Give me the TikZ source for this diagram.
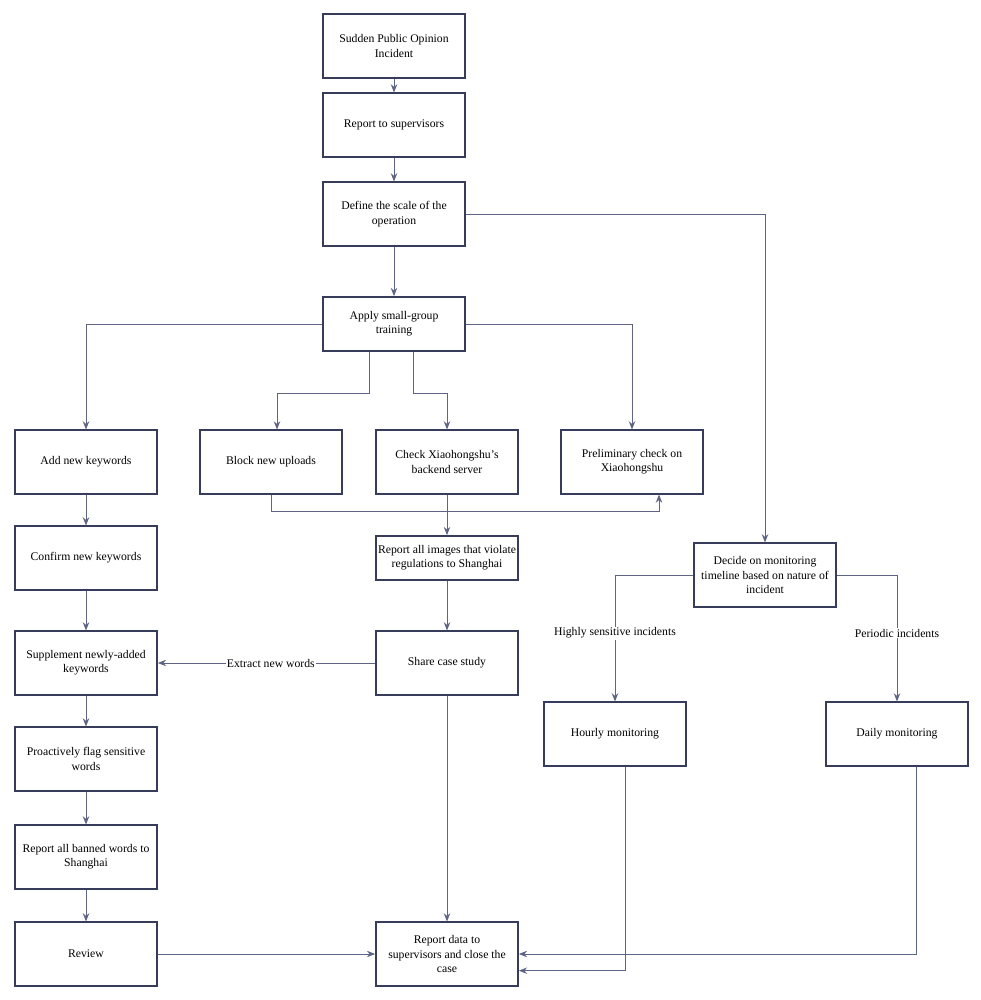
\documentclass[tikz,border=0pt]{standalone}
\usepackage{xcolor}
\usepackage{fontspec}
\setmainfont{Liberation Serif}
\usetikzlibrary{arrows.meta}
\usetikzlibrary{calc}
\definecolor{boxline}{HTML}{363C5A}
\definecolor{arrowline}{HTML}{5E6483}

\begin{document}
\begin{tikzpicture}[x=0.03cm,y=-0.03cm,
    every node/.style={black,font=\fontsize{10}{12.2}\selectfont},
    box/.style={draw=boxline,line width=1.5pt,fill=white,align=center,
        minimum width=4.26cm,minimum height=1.9cm,inner sep=1pt},
    link/.style={draw=arrowline,line width=0.75pt,-{Stealth[length=7pt,width=5.5pt]}},
    tag/.style={fill=white,inner sep=1pt}]
    \useasboundingbox[fill=white] (0,0) rectangle (981,1000);

    % main column
    \node[box] (incident) at (394,46) {Sudden Public Opinion\\Incident};
    \node[box] (report) at (394,125) {Report to supervisors};
    \node[box] (define) at (394,214) {Define the scale of the\\operation};
    \node[box,minimum height=1.62cm] (apply) at (394,324) {Apply small-group\\training};

    \node[box] (keywords) at (86,462) {Add new keywords};
    \node[box] (block) at (271,462) {Block new uploads};
    \node[box] (backend) at (447,462) {Check Xiaohongshu’s\\backend server};
    \node[box] (prelim) at (632,462) {Preliminary check on\\Xiaohongshu};

    \node[box] (confirm) at (86,558) {Confirm new keywords};
    \node[box,minimum height=1.32cm] (images) at (447,558) {Report all images that violate\\regulations to Shanghai};
    \node[box] (decide) at (765,575) {Decide on monitoring\\timeline based on nature of\\incident};

    \node[box] (supplement) at (86,663) {Supplement newly-added\\keywords};
    \node[box] (share) at (447,663) {Share case study};
    \node[box] (hourly) at (615,734) {Hourly monitoring};
    \node[box] (daily) at (897,734) {Daily monitoring};

    \node[box] (flag) at (86,759) {Proactively flag sensitive\\words};
    \node[box] (banned) at (86,857) {Report all banned words to\\Shanghai};
    \node[box] (review) at (86,954) {Review};
    \node[box] (close) at (447,954) {Report data to\\supervisors and close the\\case};

    \draw[link] (incident) -- (report);
    \draw[link] (report) -- (define);
    \draw[link] (define) -- (apply);
    \draw[link] (define.east) -| (decide.north);

    \draw[link] (apply.west) -| (keywords.north);
    \draw[link] (apply.east) -| (prelim.north);
    \draw[link] ([xshift=-0.75cm]apply.south) -- ++(0,42) -| ([xshift=0.18cm]block.north);
    \draw[link] ([xshift=0.57cm]apply.south) -- ++(0,42) -| (backend.north);

    \draw[link] (block.south) -- ++(0,17) -| ([xshift=0.81cm]prelim.south);
    \draw[link] (backend) -- (images);
    \draw[link] (images) -- (share);
    \draw[link] (share) -- node[tag,pos=0.48] {Extract new words} (supplement);
    \draw[link] (share) -- (close);

    \draw[link] (keywords) -- (confirm);
    \draw[link] (confirm) -- (supplement);
    \draw[link] (supplement) -- (flag);
    \draw[link] (flag) -- (banned);
    \draw[link] (banned) -- (review);
    \draw[link] (review) -- (close);

    \draw[link] (decide.west) -| node[tag,pos=0.73] {Highly sensitive incidents} (hourly.north);
    \draw[link] (decide.east) -| node[tag,pos=0.73] {Periodic incidents} (daily.north);
    \draw[link] ([xshift=0.3cm]hourly.south) |- ([yshift=-0.5cm]close.east);
    \draw[link] ([xshift=0.57cm]daily.south) |- (close.east);
\end{tikzpicture}
\end{document}
